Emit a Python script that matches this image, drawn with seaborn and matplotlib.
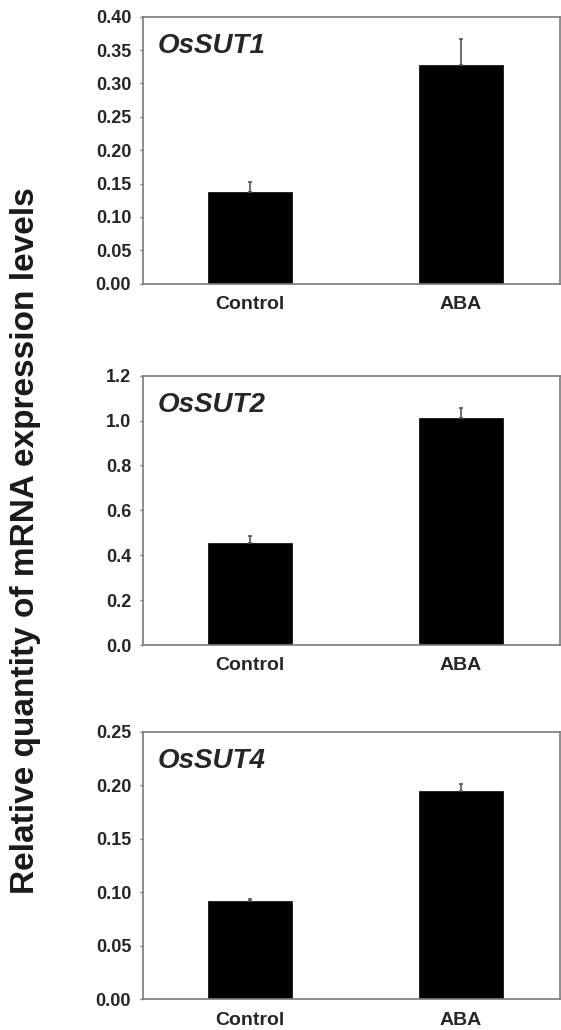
import matplotlib
matplotlib.use("Agg")
import matplotlib.pyplot as plt
import seaborn as sns
import pandas as pd
import numpy as np

categories = ["Control", "ABA"]
genes = ["OsSUT1", "OsSUT2", "OsSUT4"]
sut1_means = [0.137, 0.328]
sut1_errs = [0.015, 0.038]
sut2_means = [0.456, 1.010]
sut2_errs = [0.030, 0.045]
sut4_means = [0.0915, 0.1946]
sut4_errs = [0.002, 0.007]
sut1_ticks = [0.00, 0.05, 0.10, 0.15, 0.20, 0.25, 0.30, 0.35, 0.40]
sut2_ticks = [0.0, 0.2, 0.4, 0.6, 0.8, 1.0, 1.2]
sut4_ticks = [0.00, 0.05, 0.10, 0.15, 0.20, 0.25]
ylabel = "Relative quantity of mRNA expression levels"

sns.set_theme(style="white")
plt.rcParams["font.family"] = ["Liberation Sans", "DejaVu Sans"]

fig = plt.figure(figsize=(5.61, 10.30), dpi=100)
left, width = 143 / 561, (560 - 143) / 561
rects = [
    (left, 1 - 283.7 / 1030, width, 267.0 / 1030),
    (left, 1 - 645.0 / 1030, width, 269.3 / 1030),
    (left, 1 - 999.3 / 1030, width, 267.6 / 1030),
]
panels = [
    (sut1_means, sut1_errs, sut1_ticks, "{:.2f}"),
    (sut2_means, sut2_errs, sut2_ticks, "{:.1f}"),
    (sut4_means, sut4_errs, sut4_ticks, "{:.2f}"),
]
spine_col = "#7a7a7a"
txt_col = "#262626"

for gene, rect, (means, errs, ticks, fmt) in zip(genes, rects, panels):
    ax = fig.add_axes(rect)
    df = pd.DataFrame({"cond": categories, "val": means})
    sns.barplot(data=df, x="cond", y="val", order=categories, color="black",
                width=0.4, ax=ax, errorbar=None, saturation=1,
                edgecolor="black", linewidth=0.5)
    xs = np.arange(len(categories))
    ax.errorbar(xs, means, yerr=[np.zeros(len(errs)), errs], fmt="none",
                ecolor="#555555", elinewidth=1.2, capsize=1.5, capthick=1.2, zorder=3)
    ax.set_xlim(-0.507, 1.469)
    ax.set_ylim(ticks[0], ticks[-1])
    ax.set_yticks(ticks)
    ax.set_yticklabels([fmt.format(t) for t in ticks], fontsize=13,
                       fontweight="bold", color=txt_col)
    ax.set_xticks(xs)
    ax.set_xticklabels(categories, fontsize=14, fontweight="bold", color=txt_col)
    ax.set_xlabel("")
    ax.set_ylabel("")
    for s in ax.spines.values():
        s.set_visible(True)
        s.set_color(spine_col)
        s.set_linewidth(1.2)
    ax.tick_params(axis="y", which="both", left=True, length=2.5, width=1,
                   color=spine_col, direction="out", pad=6)
    ax.tick_params(axis="x", which="both", bottom=False, length=0, pad=9)
    ax.text(0.034, 0.864, gene, transform=ax.transAxes, fontsize=20,
            fontweight="bold", fontstyle="italic", color=txt_col,
            ha="left", va="baseline")

fig.text(26 / 561, 1 - 541 / 1030, ylabel, rotation=90, fontsize=24,
         fontweight="bold", color="#1a1a1a", ha="center", va="center")

fig.savefig("out.png", dpi=100, facecolor="white")
